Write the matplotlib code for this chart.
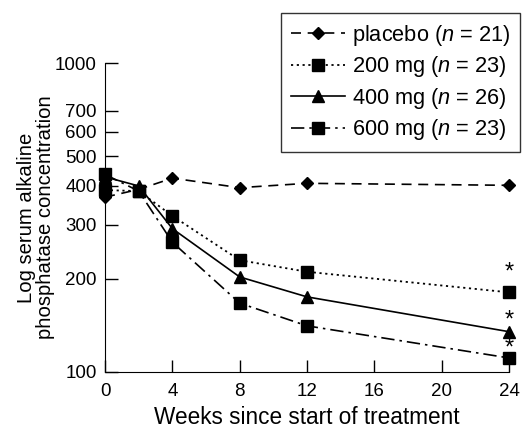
import numpy as np
import matplotlib
matplotlib.use('Agg')
import matplotlib.pyplot as plt
from matplotlib.ticker import FixedLocator, NullLocator

plt.rcParams['font.family'] = ['Liberation Sans', 'DejaVu Sans']
plt.rcParams['mathtext.fontset'] = 'custom'
plt.rcParams['mathtext.it'] = 'Liberation Sans:italic'
plt.rcParams['mathtext.rm'] = 'Liberation Sans'

# dati
weeks = [0, 2, 4, 8, 12, 24]
placebo = [368, 390, 424, 395, 408, 402]
mg200 = [388, 385, 320, 230, 211, 181]
mg400 = [428, 400, 291, 203, 175, 135]
mg600 = [436, 385, 263, 167, 141, 111]

yticks = [100, 200, 300, 400, 500, 600, 700, 1000]
xticks = [0, 4, 8, 12, 16, 20, 24]

fig = plt.figure(figsize = (5.28, 4.29), dpi = 100)
ax = fig.add_axes([0.199, 0.133, 0.765, 0.72])

ax.plot(weeks, placebo, color = 'black', linestyle = (0, (6, 4)), lw = 1.2,
        marker = 'D', markersize = 6.5, clip_on = False, label = 'placebo ($n$ = 21)')
ax.plot(weeks, mg200, color = 'black', linestyle = (0, (1.2, 2)), lw = 1.3,
        marker = 's', markersize = 8, clip_on = False, label = '200 mg ($n$ = 23)')
ax.plot(weeks, mg400, color = 'black', linestyle = '-', lw = 1.2,
        marker = '^', markersize = 8, clip_on = False, label = '400 mg ($n$ = 26)')
ax.plot(weeks, mg600, color = 'black', linestyle = (0, (8, 3, 1.5, 3)), lw = 1.2,
        marker = 's', markersize = 8, clip_on = False, label = '600 mg ($n$ = 23)')

# asterischi a 24 settimane
for v, off in zip([mg200[-1], mg400[-1], mg600[-1]], [14, 8, 7]):
    ax.annotate('*', (24, v), xytext = (0, off), textcoords = 'offset points',
                ha = 'center', va = 'center', fontsize = 17, annotation_clip = False)

ax.set_yscale('log')
ax.set_ylim(100, 1000)
ax.set_xlim(0, 24)
ax.yaxis.set_major_locator(FixedLocator(yticks))
ax.yaxis.set_minor_locator(NullLocator())
ax.set_yticklabels([str(t) for t in yticks])
ax.set_xticks(xticks)

ax.spines['top'].set_visible(False)
ax.spines['right'].set_visible(False)
ax.tick_params(direction = 'in', length = 9, width = 1, labelsize = 13.5)
ax.tick_params(axis = 'x', pad = 8)
ax.tick_params(axis = 'y', pad = 6)

ax.set_xlabel('Weeks since start of treatment', fontsize = 16.3, labelpad = 4.5)
ax.set_ylabel('Log serum alkaline\nphosphatase concentration', fontsize = 14.6,
              linespacing = 1.0)
ax.yaxis.set_label_coords(-0.124, 0.5)

leg = ax.legend(loc = 'upper right', bbox_to_anchor = (520 / 528, 1 - 13 / 429),
                bbox_transform = fig.transFigure, fontsize = 15.7,
                frameon = True, fancybox = False, edgecolor = 'black',
                handlelength = 2.5, handletextpad = 0.3, labelspacing = 0.3,
                borderpad = 0.45, borderaxespad = 0)
leg.get_frame().set_linewidth(1.0)

fig.savefig('out.png', dpi = 100)
